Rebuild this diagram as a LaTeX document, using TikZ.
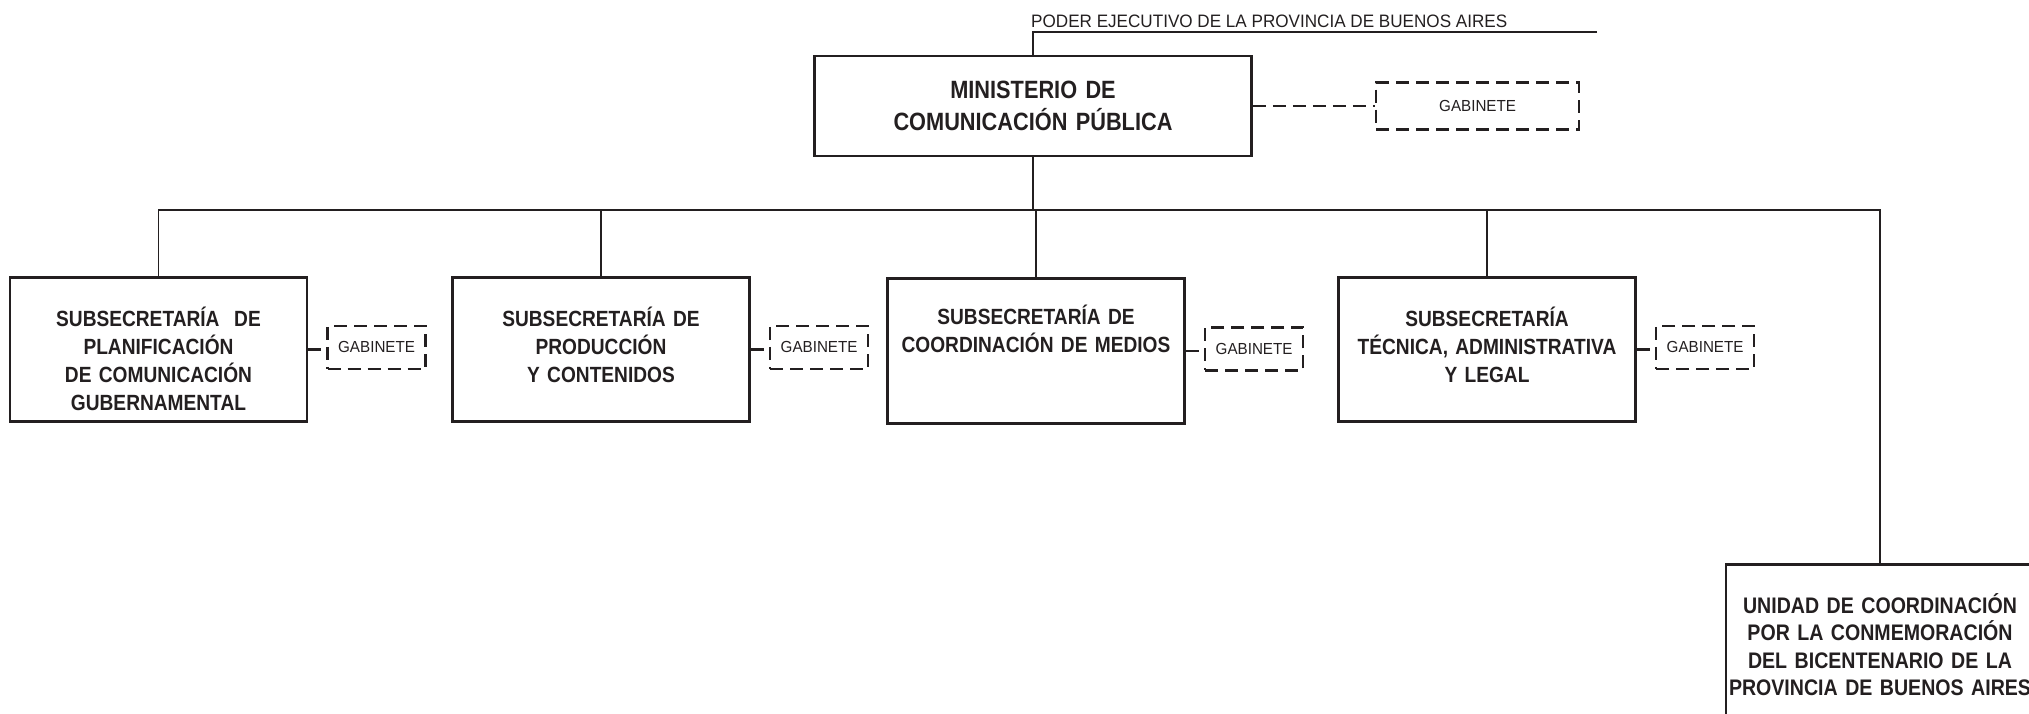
\documentclass[tikz,border=0pt]{standalone}
\usepackage{fontspec}
\newfontfamily\orgbold[FakeStretch=0.87]{Liberation Sans}
\newfontfamily\orgreg[FakeStretch=0.95]{Liberation Sans}
\usepackage{xcolor}
\usepackage{tikz}
\usetikzlibrary{positioning}
\definecolor{ink}{HTML}{231F20}

\begin{document}
\begin{tikzpicture}[x=1pt, y=-1pt, box/.style={draw=ink, line width=2.6pt, inner sep=0pt, align=center, text=ink}, mainbox/.style={box, text width=437pt, minimum height=100pt, font=\orgbold\bfseries\fontsize{25}{32}\selectfont}, subbox/.style={box, text width=297pt, text height=49pt, text depth=95pt, font=\orgbold\bfseries\fontsize{22}{28}\selectfont}, gab/.style={draw=ink, line width=2.6pt, dash pattern=on 13pt off 7pt, inner sep=0pt, minimum width=98pt, minimum height=43pt, text=ink, font=\orgreg\fontsize{16}{19}\selectfont}, link/.style={draw=ink, line width=1.3pt}, gablink/.style={draw=ink, line width=2.6pt, dash pattern=on 13pt off 7pt}]
		\path[use as bounding box, clip] (0,0) rectangle (2029,713);
		% ministerio y gabinete
		\node[inner sep=0pt, anchor=base west, text=ink, font=\orgreg\fontsize{18}{20}\selectfont](poder) at (1031,27){PODER EJECUTIVO DE LA PROVINCIA DE BUENOS AIRES};
		\coordinate(poderend) at (1597,32);
		\node[mainbox](min) at (1033,106){MINISTERIO DE\\COMUNICACIÓN PÚBLICA};
		\node[gab, minimum width=203pt, minimum height=47pt, right=122pt of min](g0){GABINETE};
		\draw[link] (poderend) -- (poderend -| min.north) -- (min.north);
		\draw[gablink] (min) -- (g0);
		% subsecretarias
		\node[subbox, anchor=north](b1) at (158.5,276){SUBSECRETARÍA\ \ DE\\PLANIFICACIÓN\\DE COMUNICACIÓN\\GUBERNAMENTAL};
		\node[subbox, anchor=north](b2) at (601,276){SUBSECRETARÍA DE\\PRODUCCIÓN\\Y CONTENIDOS};
		\node[subbox, text height=46pt, text depth=99pt, anchor=north](b3) at (1036,277){SUBSECRETARÍA DE\\COORDINACIÓN DE MEDIOS};
		\node[subbox, anchor=north](b4) at (1487,276){SUBSECRETARÍA\\TÉCNICA, ADMINISTRATIVA\\Y LEGAL};
		\node[subbox, text width=308pt, text depth=111pt, font=\orgbold\bfseries\fontsize{22.5}{27.5}\selectfont, anchor=north](unidad) at (1880,563){UNIDAD DE COORDINACIÓN\\POR LA CONMEMORACIÓN\\DEL BICENTENARIO DE LA\\PROVINCIA DE BUENOS AIRES};
		\foreach \n in {1,2,3,4}{
			\node[gab, right=18pt of b\n, yshift=2pt](g\n){GABINETE};
			\draw[gablink] (b\n.east) -- (b\n.east -| g\n.west);
		}
		% lineas
		\coordinate(fork) at (1033,210);
		\draw[link] (min.south) -- (fork);
		\draw[link] (b1.north) |- (fork -| unidad.north) -- (unidad.north);
		\foreach \n in {2,3,4}
			\draw[link] (b\n.north) -- (b\n.north |- fork);
	\end{tikzpicture}
\end{document}
